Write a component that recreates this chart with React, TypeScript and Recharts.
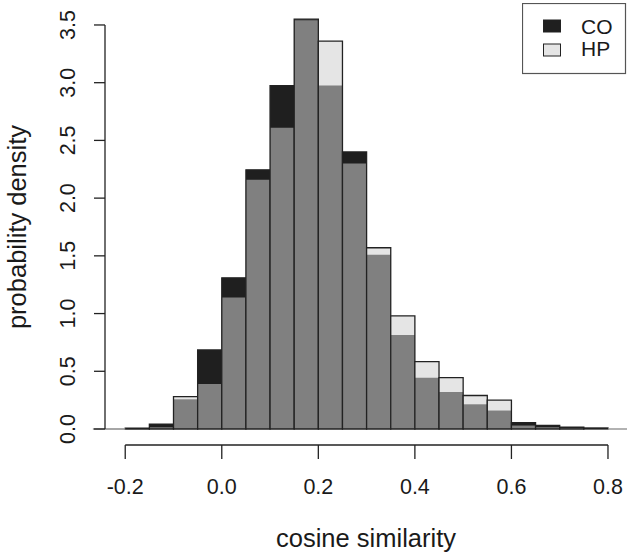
import React from 'react';
import { ComposedChart, XAxis, YAxis, ReferenceArea, ReferenceLine, Legend } from 'recharts';

// ---- data ----
const binStarts = [-0.2, -0.15, -0.1, -0.05, 0.0, 0.05, 0.1, 0.15, 0.2, 0.25, 0.3, 0.35, 0.4, 0.45, 0.5, 0.55, 0.6, 0.65, 0.7, 0.75];
const binWidth = 0.05;
const coDensity = [0.008, 0.043, 0.257, 0.685, 1.31, 2.245, 2.975, 3.55, 2.975, 2.4, 1.51, 0.815, 0.445, 0.32, 0.214, 0.16, 0.055, 0.032, 0.017, 0.009];
const hpDensity = [0.0, 0.015, 0.28, 0.39, 1.14, 2.16, 2.61, 3.54, 3.36, 2.3, 1.57, 0.98, 0.583, 0.445, 0.29, 0.25, 0.03, 0.015, 0.008, 0.004];
const seriesNames = ['CO', 'HP'];
const xTicks = [-0.2, 0.0, 0.2, 0.4, 0.6, 0.8];
const yTicks = [0, 0.5, 1.0, 1.5, 2.0, 2.5, 3.0, 3.5];
const xLabel = 'cosine similarity';
const yLabel = 'probability density';

// ---- style ----
const CO_COLOR = '#1f1f1f';
const HP_COLOR = '#e5e5e5';
const BOTH_COLOR = '#808080';
const EDGE = '#222222';
const FONT = '"Liberation Sans", Arial, Helvetica, sans-serif';
const X_DOMAIN: [number, number] = [-0.2419, 0.8394];
const Y_DOMAIN: [number, number] = [-0.1386, 3.699];
const BASE_LEFT = -0.267;

const data = binStarts.map((s, i) => ({ x: s + binWidth / 2, co: coDensity[i], hp: hpDensity[i] }));

const YTick = (props: any) => {
  const { x, y, payload } = props;
  const tx = x - 17;
  return (
    <text x={tx} y={y} transform={`rotate(-90, ${tx}, ${y})`} textAnchor="middle"
      fontFamily={FONT} fontSize={21.5} fill="#1a1a1a">
      {Number(payload.value).toFixed(1)}
    </text>
  );
};

const XTick = (props: any) => {
  const { x, y, payload } = props;
  return (
    <text x={x} y={y} dy="0.71em" textAnchor="middle" fontFamily={FONT} fontSize={21.5} fill="#1a1a1a">
      {Number(payload.value).toFixed(1)}
    </text>
  );
};

const LegendBox = () => (
  <svg width={105} height={72} style={{ display: 'block' }}>
    <rect x={0.5} y={0.5} width={103} height={70} fill="#fff" stroke="#555" strokeWidth={1.2} />
    {seriesNames.map((name, i) => (
      <g key={name}>
        <rect x={21.5} y={17 + i * 24} width={17} height={12} fill={i === 0 ? CO_COLOR : HP_COLOR} stroke={EDGE} strokeWidth={1} />
        <text x={59} y={31 + i * 22} fontFamily={FONT} fontSize={21} fill="#1a1a1a">{name}</text>
      </g>
    ))}
  </svg>
);

export default function App() {
  const bars: React.ReactNode[] = [];
  binStarts.forEach((s, i) => {
    const co = coDensity[i];
    const hp = hpDensity[i];
    const hi = Math.max(co, hp);
    const lo = Math.min(co, hp);
    const topColor = co >= hp ? CO_COLOR : HP_COLOR;
    bars.push(
      <ReferenceArea key={`t${i}`} x1={s} x2={s + binWidth} y1={0} y2={hi} fill={topColor} fillOpacity={1}
        stroke="none" ifOverflow="visible" />
    );
    if (lo > 0) {
      bars.push(
        <ReferenceArea key={`m${i}`} x1={s} x2={s + binWidth} y1={0} y2={lo} fill={BOTH_COLOR} fillOpacity={1}
          stroke="none" ifOverflow="visible" />
      );
    }
    bars.push(
      <ReferenceArea key={`o${i}`} x1={s} x2={s + binWidth} y1={0} y2={hi} fill="none" fillOpacity={0}
        stroke={EDGE} strokeWidth={1.3} strokeOpacity={1} ifOverflow="visible" />
    );
  });

  return (
    <div style={{ position: 'absolute', left: 0, top: 0, width: 630, height: 556, background: '#fff' }}>
      <ComposedChart width={630} height={556} data={data} margin={{ top: 2, right: 3, bottom: 0, left: 0 }}>
        <XAxis type="number" dataKey="x" domain={X_DOMAIN} allowDataOverflow ticks={xTicks}
          axisLine={false} tickSize={14} tickMargin={20} height={111}
          tickLine={{ stroke: EDGE, strokeWidth: 1.3 }} tick={<XTick />} interval={0}
          label={(p: any) => {
            const vb = p.viewBox || { x: 105, y: 445, width: 522, height: 111 };
            return (
              <text x={vb.x + vb.width / 2} y={547} textAnchor="middle" fontFamily={FONT} fontSize={25.5} fill="#1a1a1a">
                {xLabel}
              </text>
            );
          }} />
        <YAxis type="number" domain={Y_DOMAIN} allowDataOverflow ticks={yTicks} width={105}
          axisLine={false} tickSize={11} tickLine={{ stroke: EDGE, strokeWidth: 1.3 }} tick={<YTick />} interval={0}
          label={() => (
            <text x={26} y={227} transform="rotate(-90, 26, 227)" textAnchor="middle" fontFamily={FONT}
              fontSize={25.5} fill="#1a1a1a">
              {yLabel}
            </text>
          )} />
        {bars}
        <ReferenceLine segment={[{ x: BASE_LEFT, y: 0 }, { x: binStarts[0], y: 0 }]} stroke="#888" strokeWidth={1.3} ifOverflow="visible" />
        <ReferenceLine segment={[{ x: binStarts[binStarts.length - 1] + binWidth, y: 0 }, { x: X_DOMAIN[1], y: 0 }]} stroke="#888" strokeWidth={1.3} ifOverflow="visible" />
        <ReferenceLine segment={[{ x: xTicks[0], y: Y_DOMAIN[0] }, { x: xTicks[xTicks.length - 1], y: Y_DOMAIN[0] }]} stroke={EDGE} strokeWidth={1.3} ifOverflow="visible" />
        <ReferenceLine segment={[{ x: X_DOMAIN[0], y: yTicks[0] }, { x: X_DOMAIN[0], y: yTicks[yTicks.length - 1] }]} stroke={EDGE} strokeWidth={1.3} ifOverflow="visible" />
        <Legend layout="vertical" align="center" verticalAlign="middle" content={() => <LegendBox />}
          wrapperStyle={{ position: 'absolute', left: 522, top: 3, width: 105, height: 72, margin: 0 }} />
      </ComposedChart>
    </div>
  );
}
